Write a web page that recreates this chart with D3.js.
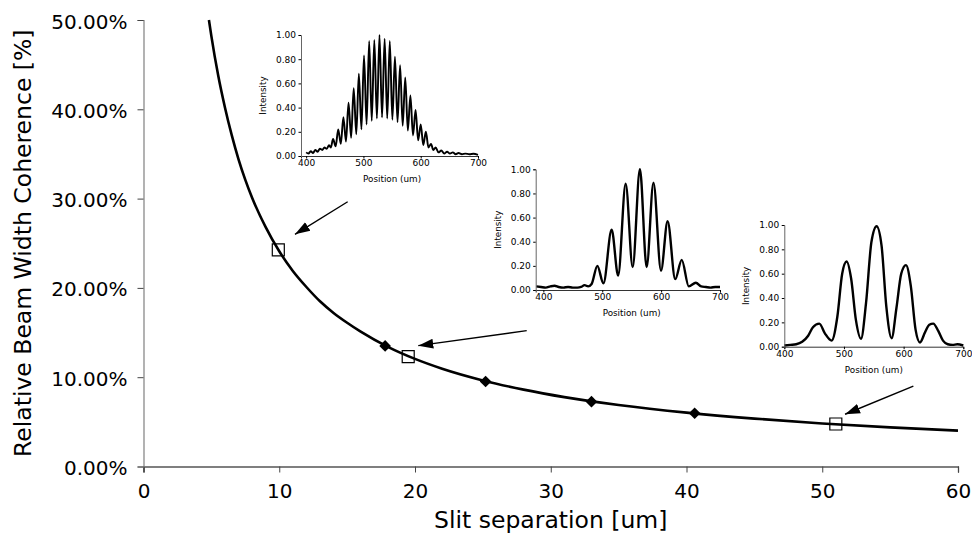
<!DOCTYPE html>
<html lang="en">
<head>
<meta charset="utf-8">
<title>Relative Beam Width Coherence</title>
<script src="https://cdn.jsdelivr.net/npm/d3@7"></script>
<style>
  body { margin: 0; background: #fff; }
  svg { display: block; }
  text { font-family: "DejaVu Sans", sans-serif; fill: #000; }
  .main-axis text { font-size: 20px; }
  .inset-axis text { font-size: 9px; }
</style>
</head>
<body>
<script>
// ---- main chart data ----
var xTicks = [0, 10, 20, 30, 40, 50, 60];
var yTicks = [0, 10, 20, 30, 40, 50];

// fitted curve (slit separation um, coherence %)
var curveX = [4.82, 5, 5.5, 6, 6.5, 7, 7.5, 8, 9, 10, 11, 12, 13, 14, 15, 16, 18, 20, 22, 25, 28, 31, 35, 40, 45, 50, 55, 60];
var curveY = [50.0, 48.2, 43.8, 40.2, 37.1, 34.4, 32.1, 30.1, 26.8, 24.1, 21.9, 20.1, 18.5, 17.2, 16.1, 15.1, 13.4, 12.05, 10.95, 9.64, 8.61, 7.77, 6.89, 6.03, 5.36, 4.82, 4.38, 4.02];

// measured points (filled diamonds)
var measX = [17.8, 25.2, 33.0, 40.6];
var measY = [13.5, 9.52, 7.26, 5.96];

// points that have an inset (open squares)
var boxX = [9.93, 19.5, 51.0];
var boxY = [24.25, 12.3, 4.76];

// arrows from inset to square: [x0, y0, x1, y1]
var arrows = [
  [15.04, 29.65, 11.16, 26.0],
  [28.23, 15.21, 20.24, 13.53],
  [56.71, 9.01, 51.68, 5.85]
];

// ---- inset data: position (um), intensity ----
var fringe1 = [[400,.03],[404,.02],[408,.04],[412,.025],[416,.05],[420,.035],[424,.06],[428,.05],[432,.07],[436,.06],[440,.09],[443,.07],[447,.14],[451.5,.08],[456,.22],[460.5,.10],[465,.32],[469.5,.12],[474,.44],[478.5,.15],[483,.56],[487.5,.18],[492,.68],[496.5,.22],[501,.83],[505.5,.26],[510,.95],[514.5,.29],[519,.96],[523.5,.31],[528,1.0],[532.5,.32],[537,.97],[541.5,.31],[546,.95],[550.5,.30],[555,.82],[559.5,.28],[564,.75],[568.5,.25],[573,.65],[577.5,.21],[582,.50],[586.5,.17],[591,.38],[595.5,.13],[600,.26],[604.5,.09],[609,.20],[613.5,.07],[618,.10],[622,.05],[626,.07],[631,.03],[636,.045],[641,.02],[646,.035],[651,.02],[656,.03],[661,.015],[666,.025],[672,.015],[678,.02],[685,.015],[692,.018],[700,.01]];

var fringe2 = [[388,.03],[396,.025],[404,.02],[412,.03],[419,.035],[426,.025],[434,.02],[442,.025],[450,.02],[458,.02],[464,.025],[470,.04],[476,.03],[482,.05],[491.7,.20],[502,.055],[516,.50],[527,.12],[539.8,.88],[551.7,.19],[564,1.0],[575.4,.19],[587,.89],[599.8,.16],[611,.57],[624,.09],[635,.25],[647,.03],[659,.06],[668,.03],[676,.025],[684,.02],[692,.025],[700,.025]];

var fringe3 = [[400,.01],[410,.015],[420,.02],[430,.04],[440,.09],[448,.16],[458.7,.19],[468,.11],[479.3,.05],[489,.25],[497,.6],[504.5,.70],[512,.56],[520,.22],[528.5,.065],[537,.36],[546,.86],[554.7,.99],[563,.83],[571,.33],[579.9,.07],[588,.32],[596,.6],[603.9,.67],[612,.5],[620,.14],[627.4,.035],[636,.12],[643,.18],[649.7,.19],[658,.13],[666,.05],[674,.02],[682,.015],[690,.02],[700,.01]];

var insetXTicks = [400, 500, 600, 700];
var insetYTicks = [0, 0.2, 0.4, 0.6, 0.8, 1.0];

var w = 972, h = 534;

var svg = d3.select("body").append("svg")
  .attr("width", w)
  .attr("height", h);

svg.append("defs").append("marker")
  .attr("id", "head")
  .attr("markerUnits", "userSpaceOnUse")
  .attr("viewBox", "0 -6 16 12")
  .attr("refX", 15)
  .attr("refY", 0)
  .attr("markerWidth", 16)
  .attr("markerHeight", 12)
  .attr("orient", "auto")
  .append("path")
  .attr("d", "M0,-5L15,0L0,5Z")
  .attr("fill", "#000");

var xScale = d3.scaleLinear().domain([0, 60]).range([143.5, 958]);
var yScale = d3.scaleLinear().domain([0, 50]).range([466.5, 20]);

// x axis
var gx = svg.append("g")
  .attr("class", "main-axis")
  .attr("transform", "translate(0," + yScale(0) + ")")
  .call(d3.axisBottom(xScale).tickValues(xTicks).tickSize(6).tickPadding(11));
gx.select(".domain").attr("stroke", "#000").attr("stroke-width", 1.2);

// y axis
var gy = svg.append("g")
  .attr("class", "main-axis")
  .attr("transform", "translate(" + xScale(0) + ",0)")
  .call(d3.axisLeft(yScale).tickValues(yTicks).tickSize(6).tickPadding(10)
    .tickFormat(function(d) { return d3.format(".2f")(d) + "%"; }));
gy.select(".domain").attr("stroke", "#808080").attr("stroke-width", 1.2);
gy.selectAll(".tick line").attr("stroke", "#444");
gy.selectAll(".tick text").attr("dy", "0.4em");
gx.selectAll(".tick line").attr("stroke", "#444");

// axis titles
svg.append("text")
  .attr("x", (xScale(0) + xScale(60)) / 2)
  .attr("y", 528)
  .attr("text-anchor", "middle")
  .style("font-size", "23.5px")
  .text("Slit separation [um]");

svg.append("text")
  .attr("transform", "translate(31," + ((yScale(0) + yScale(50)) / 2) + ") rotate(-90)")
  .attr("text-anchor", "middle")
  .style("font-size", "23.5px")
  .text("Relative Beam Width Coherence [%]");

// fitted curve
var line = d3.line()
  .x(function(d) { return xScale(d[0]); })
  .y(function(d) { return yScale(d[1]); })
  .curve(d3.curveMonotoneX);

svg.append("path")
  .datum(d3.zip(curveX, curveY))
  .attr("d", line)
  .attr("fill", "none")
  .attr("stroke", "#000")
  .attr("stroke-width", 2.6);

// measured diamonds
svg.selectAll(".meas")
  .data(d3.zip(measX, measY))
  .enter()
  .append("path")
  .attr("class", "meas")
  .attr("d", d3.symbol(d3.symbolSquare, 68))
  .attr("transform", function(d) {
    return "translate(" + xScale(d[0]) + "," + yScale(d[1]) + ") rotate(45)";
  })
  .attr("fill", "#000");

// open squares
svg.selectAll(".box")
  .data(d3.zip(boxX, boxY))
  .enter()
  .append("path")
  .attr("class", "box")
  .attr("d", d3.symbol(d3.symbolSquare, 144))
  .attr("transform", function(d) {
    return "translate(" + xScale(d[0]) + "," + yScale(d[1]) + ")";
  })
  .attr("fill", "none")
  .attr("stroke", "#000")
  .attr("stroke-width", 1.2);

// arrows
svg.selectAll(".arrow")
  .data(arrows)
  .enter()
  .append("line")
  .attr("class", "arrow")
  .attr("x1", function(d) { return xScale(d[0]); })
  .attr("y1", function(d) { return yScale(d[1]); })
  .attr("x2", function(d) { return xScale(d[2]); })
  .attr("y2", function(d) { return yScale(d[3]); })
  .attr("stroke", "#000")
  .attr("stroke-width", 1.4)
  .attr("marker-end", "url(#head)");

// insets
function drawInset(data, xDomain, left, right, top, bottom, lw) {
  var ix = d3.scaleLinear().domain(xDomain).range([left, right]);
  var iy = d3.scaleLinear().domain([0, 1]).range([bottom, top]);
  var g = svg.append("g");

  g.append("path")
    .datum(data)
    .attr("d", d3.line()
      .x(function(d) { return ix(d[0]); })
      .y(function(d) { return iy(d[1]); })
      .curve(d3.curveMonotoneX))
    .attr("fill", "none")
    .attr("stroke", "#000")
    .attr("stroke-width", lw)
    .attr("stroke-linejoin", "round");

  var ax = g.append("g")
    .attr("class", "inset-axis")
    .attr("transform", "translate(0," + bottom + ")")
    .call(d3.axisBottom(ix).tickValues(insetXTicks).tickSize(2.5).tickPadding(1.5));
  ax.select(".domain").attr("stroke", "#333");

  var ay = g.append("g")
    .attr("class", "inset-axis")
    .attr("transform", "translate(" + left + ",0)")
    .call(d3.axisLeft(iy).tickValues(insetYTicks).tickSize(2.5).tickPadding(2.5)
      .tickFormat(d3.format(".2f")));
  ay.select(".domain").attr("stroke", "#666");

  g.append("text")
    .attr("x", (ix(400) + ix(700)) / 2)
    .attr("y", bottom + 26)
    .attr("text-anchor", "middle")
    .style("font-size", "8.8px")
    .text("Position (um)");

  g.append("text")
    .attr("transform", "translate(" + (left - 35) + "," + ((top + bottom) / 2) + ") rotate(-90)")
    .attr("text-anchor", "middle")
    .style("font-size", "8.8px")
    .text("Intensity");
}

drawInset(fringe1, [391, 700], 301, 478, 35, 156, 1.9);
drawInset(fringe2, [387, 700], 535.7, 720, 169.3, 290, 2.4);
drawInset(fringe3, [400, 700], 784.3, 963.3, 225, 346.7, 2.4);
</script>
</body>
</html>
